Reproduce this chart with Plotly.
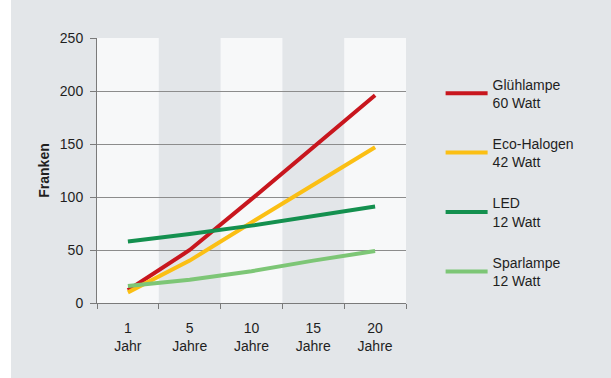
import plotly.graph_objects as go

categories = ["1<br>Jahr", "5<br>Jahre", "10<br>Jahre", "15<br>Jahre", "20<br>Jahre"]
series_names = ["Glühlampe<br>60 Watt", "Eco-Halogen<br>42 Watt", "LED<br>12 Watt", "Sparlampe<br>12 Watt"]
gluehlampe = [12, 50, 98, 147, 196]
eco_halogen = [10, 40, 76, 112, 147]
led = [58, 65, 73, 82, 91]
sparlampe = [16, 22, 30, 40, 49]
colors = ["#c8161e", "#fbbf14", "#14904f", "#7dc676"]
y_ticks = [0, 50, 100, 150, 200, 250]

FONT = "Liberation Sans, Arial, sans-serif"
fig = go.Figure()
for i, (name, vals) in enumerate(zip(series_names, [gluehlampe, eco_halogen, led, sparlampe])):
    fig.add_trace(go.Scatter(
        x=categories, y=vals, mode="lines", name=name,
        line=dict(color=colors[i], width=4), legendgroup=str(i),
    ))

# alternating column bands (shaded every second category)
shapes = []
for idx in range(len(categories)):
    if idx % 2 == 1:
        shapes.append(dict(type="rect", xref="x", yref="paper", x0=idx - 0.5, x1=idx + 0.5,
                           y0=0, y1=1, fillcolor="#e3e6e9", line=dict(width=0), layer="below"))
# white strip at left of the picture
shapes.append(dict(type="rect", xref="paper", yref="paper", x0=-97/309, x1=-86/309, y0=-75/264.5, y1=38/264.5 + 1,
                   fillcolor="white", line=dict(width=0), layer="below"))

fig.update_layout(
    width=611, height=378,
    margin=dict(l=97, r=205, t=38, b=75, pad=0),
    paper_bgcolor="#e3e6e9", plot_bgcolor="#f7f8f9",
    font=dict(family=FONT, size=14, color="#1f1f1f"),
    shapes=shapes,
    showlegend=True,
    legend=dict(x=1.112, xanchor="left", y=0.885, yanchor="top",
                bgcolor="rgba(0,0,0,0)", font=dict(size=14, family=FONT, color="#1f1f1f"),
                tracegroupgap=20, itemwidth=42),
    xaxis=dict(type="category", tickson="boundaries", showgrid=False, showline=True,
               linecolor="#7a7a7a", linewidth=1, ticks="outside", ticklen=5, tickcolor="#7a7a7a",
               range=[-0.5, len(categories) - 0.5], ticklabelstandoff=12, fixedrange=True),
    yaxis=dict(range=[0, 250], tickvals=y_ticks, showgrid=True, gridcolor="#8c8c8c", gridwidth=1.2,
               showline=True, linecolor="#7a7a7a", linewidth=1, ticks="outside", ticklen=6,
               tickcolor="#7a7a7a", zeroline=False, ticklabelstandoff=4,
               title=dict(text="<b>Franken</b>", standoff=6, font=dict(size=14, family=FONT))),
)
fig.write_html("out.html")
